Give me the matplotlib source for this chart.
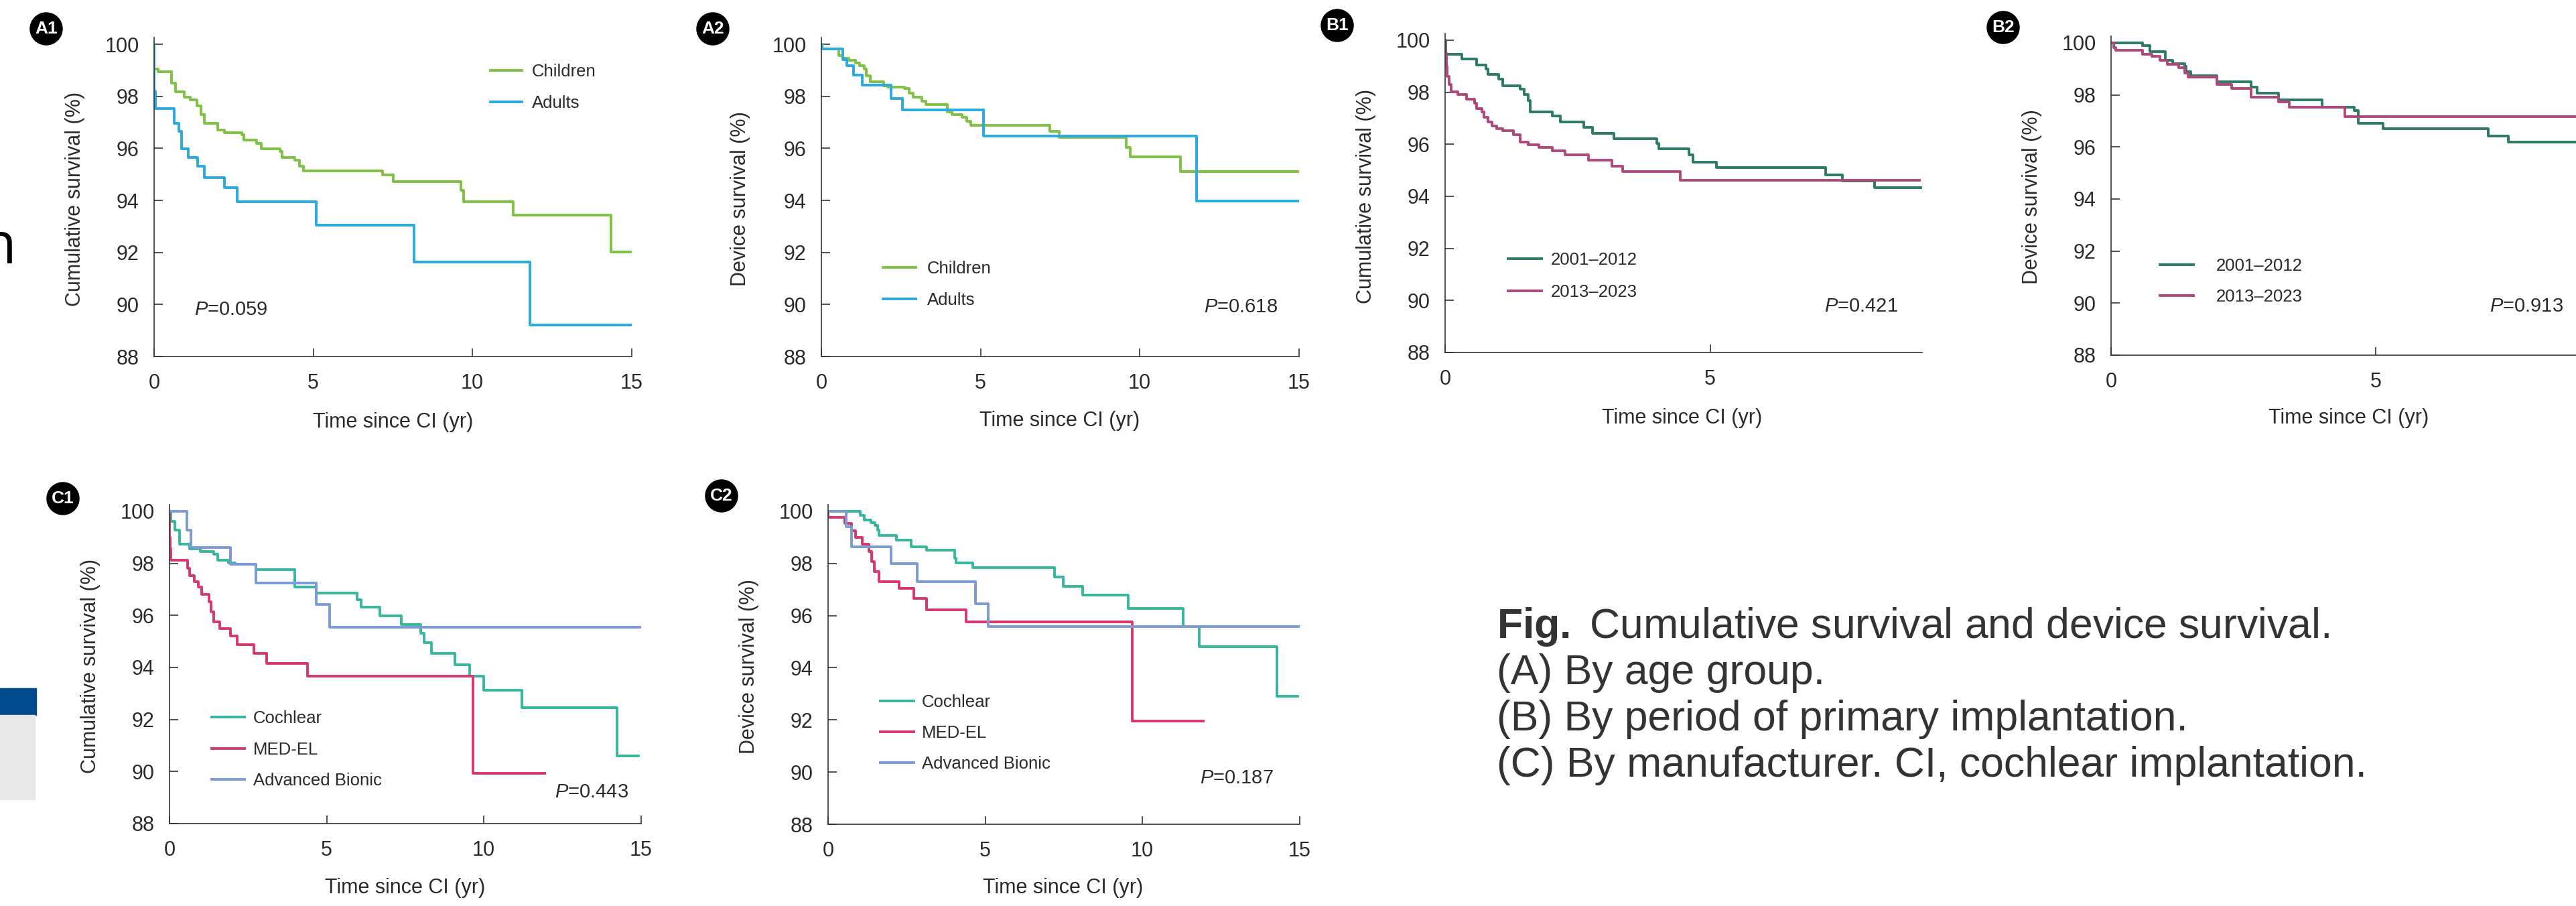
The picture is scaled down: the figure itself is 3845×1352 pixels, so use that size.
import matplotlib
matplotlib.use("Agg")
import matplotlib.pyplot as plt
from matplotlib.patches import Rectangle

plt.rcParams['font.family'] = ['Liberation Sans', 'DejaVu Sans']
plt.rcParams['mathtext.fontset'] = 'custom'
plt.rcParams['mathtext.rm'] = 'Liberation Sans'
plt.rcParams['mathtext.it'] = 'Liberation Sans:italic'
plt.rcParams['mathtext.bf'] = 'Liberation Sans:bold'

# ---------------------------
# Data (time in years, survival in %)
# ---------------------------
# A1 cumulative survival by age group
a1_children_t = [0, 0.01, 0.13, 0.54, 0.67, 0.94, 1.14, 1.34, 1.48, 1.58, 2.01, 2.21, 2.75, 2.82,
                 3.22, 3.36, 3.96, 4.03, 4.43, 4.56, 4.70, 7.18, 7.52, 9.64, 9.73, 11.28, 14.36]
a1_children_s = [100, 99.06, 98.95, 98.51, 98.18, 97.96, 97.85, 97.63, 97.30, 96.97, 96.70, 96.59,
                 96.53, 96.31, 96.20, 95.98, 95.87, 95.65, 95.54, 95.32, 95.13, 94.97, 94.72, 94.39,
                 93.94, 93.43, 92.02]
a1_children_end = 15.0
a1_adults_t = [0, 0.01, 0.05, 0.64, 0.78, 0.87, 1.07, 1.37, 1.58, 2.21, 2.62, 5.10, 8.16, 11.81]
a1_adults_s = [100, 98.2, 97.52, 96.97, 96.64, 95.98, 95.65, 95.32, 94.88, 94.50, 93.94, 93.06,
               91.63, 89.21]
a1_adults_end = 15.0

# A2 device survival by age group
a2_children_t = [0, 0.02, 0.54, 0.67, 0.87, 1.07, 1.21, 1.34, 1.41, 1.54, 1.95, 2.08, 2.62, 2.75,
                 2.89, 3.16, 3.29, 3.96, 4.10, 4.43, 4.57, 4.70, 7.18, 7.48, 9.57, 9.71, 11.28]
a2_children_s = [100, 99.81, 99.56, 99.45, 99.39, 99.28, 99.17, 99.06, 98.79, 98.57, 98.40, 98.35,
                 98.29, 98.13, 97.96, 97.80, 97.69, 97.41, 97.30, 97.19, 97.03, 96.88, 96.66, 96.42,
                 96.04, 95.67, 95.12]
a2_children_end = 15.0
a2_adults_t = [0, 0.02, 0.67, 0.81, 1.01, 1.28, 2.19, 2.55, 5.10, 11.78]
a2_adults_s = [100, 99.81, 99.40, 99.17, 98.82, 98.43, 97.91, 97.47, 96.48, 93.98]
a2_adults_end = 15.0

# B1 cumulative survival by period
b1_early_t = [0, 0.01, 0.32, 0.60, 0.77, 0.81, 1.01, 1.09, 1.41, 1.49, 1.57, 1.61, 2.02, 2.18,
              2.62, 2.78, 3.19, 3.99, 4.03, 4.60, 4.68, 5.12, 7.18, 7.50, 8.10]
b1_early_s = [100, 99.47, 99.28, 99.06, 98.90, 98.68, 98.51, 98.26, 98.13, 97.91, 97.69, 97.25,
              97.08, 96.86, 96.64, 96.42, 96.22, 96.04, 95.82, 95.60, 95.32, 95.12, 94.83, 94.58,
              94.33]
b1_early_end = 9.0
b1_late_t = [0, 0.005, 0.02, 0.04, 0.08, 0.12, 0.24, 0.40, 0.56, 0.60, 0.69, 0.73, 0.81, 0.89,
             0.97, 1.09, 1.29, 1.41, 1.57, 1.77, 2.02, 2.26, 2.70, 3.15, 3.35, 4.44]
b1_late_s = [100, 99.5, 99.0, 98.62, 98.29, 98.02, 97.91, 97.74, 97.58, 97.38, 97.25, 97.03, 96.86,
             96.70, 96.59, 96.53, 96.37, 96.09, 95.98, 95.87, 95.76, 95.60, 95.38, 95.16, 94.94,
             94.63]
b1_late_end = 8.95

# B2 device survival by period
b2_early_t = [0, 0.59, 0.74, 1.03, 1.17, 1.39, 1.42, 1.50, 2.00, 2.65, 2.76, 3.16, 3.99, 4.60,
              4.67, 5.14, 7.13, 7.51]
b2_early_s = [100, 99.89, 99.67, 99.32, 99.21, 99.10, 98.90, 98.73, 98.51, 98.29, 98.07, 97.80,
              97.52, 97.41, 96.92, 96.70, 96.42, 96.18]
b2_early_end = 9.0
b2_late_t = [0, 0.05, 0.09, 0.59, 0.77, 0.92, 1.06, 1.28, 1.39, 1.46, 2.00, 2.28, 2.65, 3.16,
             3.37, 4.42]
b2_late_s = [100, 99.83, 99.72, 99.56, 99.48, 99.34, 99.17, 99.06, 98.84, 98.68, 98.40, 98.24,
             97.91, 97.74, 97.52, 97.16]
b2_late_end = 9.0

# C1 cumulative survival by manufacturer
c1_cochlear_t = [0, 0.04, 0.18, 0.31, 0.65, 0.99, 1.40, 1.54, 1.88, 2.08, 2.76, 3.98, 4.66, 5.96,
                 6.09, 6.70, 7.38, 8.00, 8.11, 8.34, 9.08, 9.56, 10.01, 11.22, 14.25]
c1_cochlear_s = [100, 99.61, 99.28, 98.73, 98.57, 98.46, 98.35, 98.13, 98.02, 97.96, 97.77, 97.08,
                 96.86, 96.59, 96.31, 95.98, 95.65, 95.32, 94.94, 94.55, 94.11, 93.67, 93.12,
                 92.46, 90.59]
c1_cochlear_end = 14.93
c1_medel_t = [0, 0.005, 0.02, 0.04, 0.58, 0.65, 0.79, 0.92, 1.02, 1.26, 1.33, 1.40, 1.60, 1.94,
              2.15, 2.69, 3.10, 4.39, 9.66]
c1_medel_s = [100, 99.0, 98.57, 98.13, 97.80, 97.52, 97.30, 97.08, 96.81, 96.53, 96.15, 95.76,
              95.49, 95.21, 94.88, 94.55, 94.16, 93.67, 89.93]
c1_medel_end = 11.94
c1_ab_t = [0, 0.56, 0.68, 1.94, 2.76, 4.66, 5.10]
c1_ab_s = [100, 99.28, 98.62, 97.96, 97.25, 96.42, 95.54]
c1_ab_end = 15.0

# C2 device survival by manufacturer
c2_cochlear_t = [0, 1.02, 1.16, 1.36, 1.50, 1.57, 1.63, 2.18, 2.65, 3.13, 4.02, 4.08, 4.60, 7.21,
                 7.49, 8.10, 9.55, 11.30, 11.81, 14.29]
c2_cochlear_s = [100, 99.84, 99.67, 99.56, 99.45, 99.29, 99.07, 98.90, 98.65, 98.52, 98.19, 98.02,
                 97.83, 97.47, 97.11, 96.78, 96.27, 95.58, 94.81, 92.92]
c2_cochlear_end = 14.95
c2_medel_t = [0, 0.01, 0.54, 0.75, 0.88, 1.09, 1.29, 1.39, 1.47, 1.63, 2.25, 2.72, 3.13, 4.40, 9.69]
c2_medel_s = [100, 99.78, 99.53, 99.26, 99.01, 98.74, 98.46, 98.08, 97.69, 97.31, 97.04, 96.65,
              96.23, 95.75, 91.95]
c2_medel_end = 11.95
c2_ab_t = [0, 0.57, 0.75, 2.01, 2.83, 4.70, 5.10]
c2_ab_s = [100, 99.40, 98.65, 97.99, 97.31, 96.45, 95.58]
c2_ab_end = 15.0

y_ticks = [88, 90, 92, 94, 96, 98, 100]
p_values = ['0.059', '0.618', '0.421', '0.913', '0.443', '0.187']
caption_lines = ['Cumulative survival and device survival.', '(A) By age group.',
                 '(B) By period of primary implantation.',
                 '(C) By manufacturer. CI, cochlear implantation.']

# ---------------------------
# Styling
# ---------------------------
C_CHILD, C_ADULT = '#7fc243', '#29a9e0'
C_EARLY, C_LATE = '#2b7a66', '#b0477b'
C_COCH, C_MEDEL, C_AB = '#36b79d', '#d8376b', '#7b9ad6'
AXIS_C = '#333333'
TEXT_C = '#2a2a2a'
LW = 2.8

W, H = 3845, 1352
fig = plt.figure(figsize=(W / 100, H / 100), dpi=100)
fig.patch.set_facecolor('white')


def px(x, y):
    return (x / W, 1 - y / H)


def make_panel(left, y100, y88, per_year, xmax, xticks):
    per = (y88 - y100) / 12.0
    top = y100 - 0.25 * per
    right = left + per_year * xmax
    ax = fig.add_axes([left / W, 1 - y88 / H, (right - left) / W, (y88 - top) / H])
    ax.set_xlim(0, xmax)
    ax.set_ylim(88, 100.25)
    ax.set_xticks(xticks)
    ax.set_yticks(y_ticks)
    for s in ['top', 'right']:
        ax.spines[s].set_visible(False)
    for s in ['left', 'bottom']:
        ax.spines[s].set_color(AXIS_C)
        ax.spines[s].set_linewidth(1.2)
    ax.tick_params(direction='in', length=9, width=1.2, color=AXIS_C,
                   labelsize=22, labelcolor=TEXT_C)
    ax.tick_params(axis='y', pad=16)
    ax.tick_params(axis='x', pad=18)
    ax.patch.set_alpha(0)
    return ax


def km(ax, t, s, end, color, label):
    ax.step(list(t) + [end], list(s) + [s[-1]], where='post', color=color, lw=LW, label=label)


def legend_at(ax, x0, y_first, pitch, line_px, gap_px, fs=18.5):
    fs_px = fs * 100 / 72
    rowh = fs_px * 1.15
    leg = ax.legend(loc='upper left', bbox_to_anchor=px(x0, y_first - rowh / 2),
                    bbox_transform=fig.transFigure, frameon=False, fontsize=fs,
                    handlelength=line_px / fs_px, handletextpad=gap_px / fs_px,
                    labelspacing=(pitch - rowh) / fs_px, borderpad=0, borderaxespad=0)
    for t in leg.get_texts():
        t.set_color(TEXT_C)


def badge(x, y, txt):
    fig.text(*px(x, y), txt, ha='center', va='center', color='white', fontsize=19,
             fontweight='bold',
             bbox=dict(boxstyle='circle,pad=0.3', fc='black', ec='none'))


def labels(xlab, ylab, ytxt):
    fig.text(*px(*xlab), 'Time since CI (yr)', ha='center', va='center', fontsize=22, color=TEXT_C)
    fig.text(*px(*ylab), ytxt, ha='center', va='center', rotation=90, fontsize=22, color=TEXT_C)


def pval(x, y, p):
    fig.text(*px(x, y), r'$P$=' + p, ha='left', va='center', fontsize=21, color=TEXT_C)


# ---------------------------
# A1
# ---------------------------
ax = make_panel(230, 66, 532, 47.5, 15, [0, 5, 10, 15])
km(ax, a1_children_t, a1_children_s, a1_children_end, C_CHILD, 'Children')
km(ax, a1_adults_t, a1_adults_s, a1_adults_end, C_ADULT, 'Adults')
legend_at(ax, 732, 110, 52, 47, 15)
badge(69, 43, 'A1')
labels((587, 630), (112, 297), 'Cumulative survival (%)')
pval(290, 462, p_values[0])

# A2
ax = make_panel(1226, 66, 532, 47.5, 15, [0, 5, 10, 15])
km(ax, a2_children_t, a2_children_s, a2_children_end, C_CHILD, 'Children')
km(ax, a2_adults_t, a2_adults_s, a2_adults_end, C_ADULT, 'Adults')
legend_at(ax, 1318, 404, 52, 49, 17)
badge(1064, 43, 'A2')
labels((1582, 628), (1105, 297), 'Device survival (%)')
pval(1797, 458, p_values[1])

# B1
ax = make_panel(2157, 60, 526, 79.1, 9, [0, 5])
km(ax, b1_early_t, b1_early_s, b1_early_end, C_EARLY, '2001\u20132012')
km(ax, b1_late_t, b1_late_s, b1_late_end, C_LATE, '2013\u20132023')
legend_at(ax, 2251, 391, 53, 50, 14)
badge(1996, 38, 'B1')
labels((2511, 624), (2039, 293), 'Cumulative survival (%)')
pval(2723, 457, p_values[2])

# B2 (cut off at the right edge in the reference)
ax = make_panel(3151, 64, 530, 79.0, 9, [0, 5])
km(ax, b2_early_t, b2_early_s, b2_early_end, C_EARLY, '2001\u20132012')
km(ax, b2_late_t, b2_late_s, b2_late_end, C_LATE, '2013\u20132023')
legend_at(ax, 3224, 400, 51, 50, 34)
badge(2990, 41, 'B2')
labels((3506, 624), (3033, 294), 'Device survival (%)')
pval(3716, 457, p_values[3])

# C1
ax = make_panel(253, 763, 1229, 46.9, 15, [0, 5, 10, 15])
km(ax, c1_cochlear_t, c1_cochlear_s, c1_cochlear_end, C_COCH, 'Cochlear')
km(ax, c1_medel_t, c1_medel_s, c1_medel_end, C_MEDEL, 'MED-EL')
km(ax, c1_ab_t, c1_ab_s, c1_ab_end, C_AB, 'Advanced Bionic')
legend_at(ax, 316, 1075, 52, 49, 13)
badge(94, 744, 'C1')
labels((605, 1325), (135, 994), 'Cumulative survival (%)')
pval(828, 1182, p_values[4])

# C2
ax = make_panel(1236, 763, 1230, 46.9, 15, [0, 5, 10, 15])
km(ax, c2_cochlear_t, c2_cochlear_s, c2_cochlear_end, C_COCH, 'Cochlear')
km(ax, c2_medel_t, c2_medel_s, c2_medel_end, C_MEDEL, 'MED-EL')
km(ax, c2_ab_t, c2_ab_s, c2_ab_end, C_AB, 'Advanced Bionic')
legend_at(ax, 1314, 1051, 51.5, 50, 12)
badge(1077, 740, 'C2')
labels((1587, 1325), (1118, 995), 'Device survival (%)')
pval(1791, 1161, p_values[5])

# ---------------------------
# Caption and page fragments
# ---------------------------
cap_y = [952, 1021, 1090, 1159]
fig.text(*px(2234, cap_y[0]), r'$\bf{Fig.}$ ' + caption_lines[0], ha='left', va='baseline',
         fontsize=45, color='#333333')
for yy, line in zip(cap_y[1:], caption_lines[1:]):
    fig.text(*px(2234, yy), line, ha='left', va='baseline', fontsize=45, color='#333333')

fig.text(*px(24, 393), 'n', ha='right', va='baseline', fontsize=62, color='black',
         family='Open Sans')
fig.patches.append(Rectangle(px(0, 1067), 54 / W, 40 / H, transform=fig.transFigure,
                             color='#004b8d', zorder=0))
fig.patches.append(Rectangle(px(0, 1193), 52 / W, 126 / H, transform=fig.transFigure,
                             color='#e9e9e9', zorder=0))

fig.savefig('out.png', dpi=100, facecolor='white')
plt.close(fig)
